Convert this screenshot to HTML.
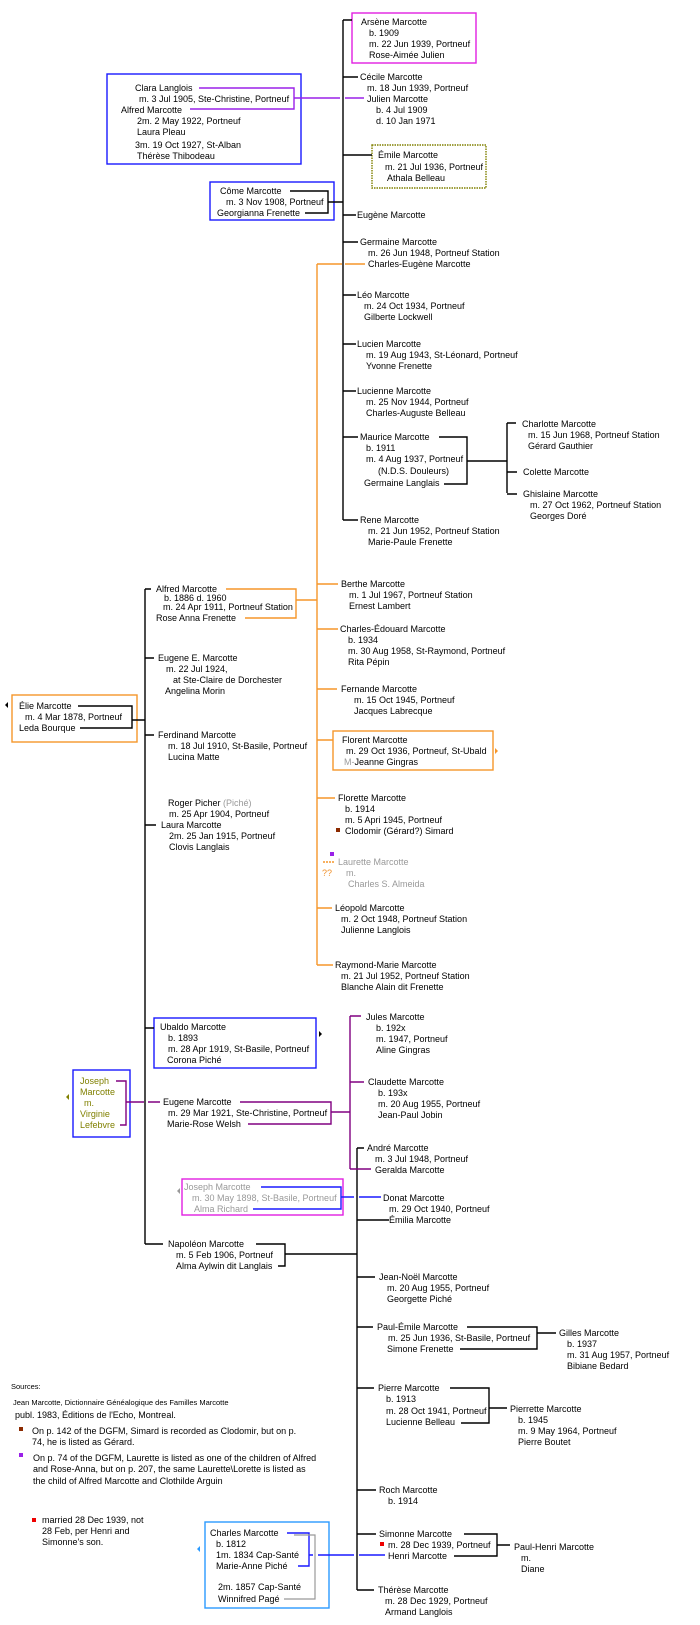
<!DOCTYPE html>
<html><head><meta charset="utf-8"><style>
html,body{margin:0;padding:0;background:#fff;}
svg{display:block}
text{font-family:"Liberation Sans",sans-serif;font-size:9px;fill:#000}
.g{fill:#999}.o{fill:#808000}.or{fill:#f0902a}
</style></head><body>
<svg width="700" height="1625" viewBox="0 0 700 1625" xmlns="http://www.w3.org/2000/svg">
<g fill="none" stroke-width="1.4">
<!-- boxes -->
<rect x="352" y="13" width="124" height="50" stroke="#e020e0"/>
<rect x="107" y="74" width="194" height="90" stroke="#1a1aff"/>
<rect x="372" y="145" width="114" height="43" stroke="#808000" stroke-dasharray="1.5,1"/>
<rect x="210" y="182" width="124" height="38" stroke="#1a1aff"/>
<rect x="12" y="695" width="125" height="47" stroke="#f5962a"/>
<rect x="333" y="731" width="160" height="39" stroke="#f5962a"/>
<rect x="154" y="1018" width="162" height="50" stroke="#1a1aff"/>
<rect x="73" y="1070" width="57" height="67" stroke="#1a1aff"/>
<rect x="182" y="1179" width="161" height="36" stroke="#e020e0"/>
<rect x="205" y="1522" width="124" height="86" stroke="#2a9aff"/>
</g>
<g fill="none" stroke="#000" stroke-width="1.4">
<!-- top family -->
<path d="M343 20V520"/>
<path d="M343 20H352M343 77H358M343 155H372M343 215H356M343 242H358M343 295H356M343 344H356M343 391H356M343 437H358M343 520H358"/>
<path d="M290 191H328V213H305M328 202H343"/>
<path d="M439 437H467V484H444M467 461H507M507 423V493M507 423H516M507 472H517M507 494H517"/>
<!-- Elie -->
<path d="M78 706H132V728H80M132 720H145M145 589V1244"/>
<path d="M145 589H151M145 658H154M145 735H154M145 825H156M145 1028H154M145 1244H163"/>
<path d="M256 1244H285V1266H278M285 1254H357"/>
<!-- lower black -->
<path d="M357 1148V1590"/>
<path d="M357 1148H364M357 1220H389M357 1277H375M357 1327H373M357 1388H374M357 1490H376M357 1534H376M357 1590H374"/>
<path d="M467 1327H537V1349H460M537 1333H556"/>
<path d="M450 1388H489V1423H461M489 1408H507"/>
<path d="M464 1534H497V1556H454M497 1545H510"/>
</g>
<!-- purple -->
<g fill="none" stroke="#9a20e8" stroke-width="1.4">
<path d="M199 88H294V109H190M294 98H340M345 98H364"/>
</g>
<g fill="none" stroke="#800080" stroke-width="1.4">
<path d="M116 1081H126V1125H120M126 1102H144M148 1102H160"/>
<path d="M240 1102H331V1124H248M331 1112H350M350 1016V1169M350 1016H361M350 1082H364M350 1169H371"/>
</g>
<!-- orange -->
<g fill="none" stroke="#f5962a" stroke-width="1.4">
<path d="M317 264V965M317 264H342M345 264H365"/>
<path d="M226 589H296V618H245M296 600H317"/>
<path d="M317 584H338M317 629H338M317 689H337M317 740H333M317 798H335M317 908H332M317 965H333"/>
<path d="M323 862H335" stroke-dasharray="2,1"/>
</g>
<!-- blue connectors -->
<g fill="none" stroke="#1a1aff" stroke-width="1.4">
<path d="M261 1187H341V1209H253M341 1197H354M359 1197H381"/>
<path d="M287 1533H309V1566H298M309 1555H313M318 1555H354M359 1555H385"/>
</g>
<path d="M294 1535H315V1599H284" fill="none" stroke="#999" stroke-width="1.2"/>
<!-- arrows / squares -->
<path d="M8 702L5 705L8 708Z" fill="#000"/>
<path d="M495 748L498 751L495 754Z" fill="#f5962a"/>
<path d="M319 1031L322 1034L319 1037Z" fill="#000"/>
<path d="M69 1094L66 1097L69 1100Z" fill="#808000"/>
<path d="M180 1188L177 1191L180 1194Z" fill="#999"/>
<path d="M200 1546L197 1549L200 1552Z" fill="#2a9aff"/>
<rect x="336" y="828" width="4" height="4" fill="#8b2a00"/>
<rect x="330" y="852" width="4" height="4" fill="#9a20e8"/>
<rect x="19" y="1427" width="4" height="4" fill="#8b2a00"/>
<rect x="19" y="1453" width="4" height="4" fill="#9a20e8"/>
<rect x="32" y="1518" width="4" height="4" fill="#e00"/>
<rect x="380" y="1542" width="4" height="4" fill="#e00"/>

<!-- texts top -->
<text x="361" y="25">Arsène Marcotte</text>
<text x="369" y="36">b. 1909</text>
<text x="369" y="47">m. 22 Jun 1939, Portneuf</text>
<text x="369" y="58">Rose-Aimée Julien</text>
<text x="360" y="80">Cécile Marcotte</text>
<text x="367" y="91">m. 18 Jun 1939, Portneuf</text>
<text x="367" y="102">Julien Marcotte</text>
<text x="376" y="113">b. 4 Jul 1909</text>
<text x="376" y="124">d. 10 Jan 1971</text>
<text x="135" y="91">Clara Langlois</text>
<text x="139" y="102">m. 3 Jul 1905, Ste-Christine, Portneuf</text>
<text x="121" y="113">Alfred Marcotte</text>
<text x="137" y="124">2m. 2 May 1922, Portneuf</text>
<text x="137" y="135">Laura Pleau</text>
<text x="135" y="148">3m. 19 Oct 1927, St-Alban</text>
<text x="137" y="159">Thérèse Thibodeau</text>
<text x="378" y="158">Émile Marcotte</text>
<text x="385" y="170">m. 21 Jul 1936, Portneuf</text>
<text x="387" y="181">Athala Belleau</text>
<text x="220" y="194">Côme Marcotte</text>
<text x="226" y="205">m. 3 Nov 1908, Portneuf</text>
<text x="217" y="216">Georgianna Frenette</text>
<text x="357" y="218">Eugène Marcotte</text>
<text x="360" y="245">Germaine Marcotte</text>
<text x="368" y="256">m. 26 Jun 1948, Portneuf Station</text>
<text x="368" y="267">Charles-Eugène Marcotte</text>
<text x="357" y="298">Léo Marcotte</text>
<text x="364" y="309">m.  24 Oct 1934, Portneuf</text>
<text x="364" y="320">Gilberte Lockwell</text>
<text x="357" y="347">Lucien Marcotte</text>
<text x="366" y="358">m. 19 Aug 1943, St-Léonard, Portneuf</text>
<text x="366" y="369">Yvonne Frenette</text>
<text x="357" y="394">Lucienne Marcotte</text>
<text x="366" y="405">m. 25 Nov 1944, Portneuf</text>
<text x="366" y="416">Charles-Auguste Belleau</text>
<text x="360" y="440">Maurice Marcotte</text>
<text x="366" y="451">b. 1911</text>
<text x="366" y="462">m. 4 Aug 1937, Portneuf</text>
<text x="378" y="474">(N.D.S. Douleurs)</text>
<text x="364" y="486">Germaine Langlais</text>
<text x="522" y="427">Charlotte Marcotte</text>
<text x="528" y="438">m. 15 Jun 1968, Portneuf Station</text>
<text x="528" y="449">Gérard Gauthier</text>
<text x="523" y="475">Colette Marcotte</text>
<text x="523" y="497">Ghislaine Marcotte</text>
<text x="530" y="508">m. 27 Oct 1962, Portneuf Station</text>
<text x="530" y="519">Georges Doré</text>
<text x="360" y="523">Rene Marcotte</text>
<text x="368" y="534">m. 21 Jun 1952, Portneuf Station</text>
<text x="368" y="545">Marie-Paule Frenette</text>
<!-- middle -->
<text x="156" y="592">Alfred Marcotte</text>
<text x="164" y="601">b. 1886   d. 1960</text>
<text x="163" y="610">m. 24 Apr 1911, Portneuf Station</text>
<text x="156" y="621">Rose Anna Frenette</text>
<text x="341" y="587">Berthe Marcotte</text>
<text x="349" y="598">m. 1 Jul 1967, Portneuf Station</text>
<text x="349" y="609">Ernest Lambert</text>
<text x="340" y="632">Charles-Édouard Marcotte</text>
<text x="348" y="643">b. 1934</text>
<text x="348" y="654">m. 30 Aug 1958, St-Raymond, Portneuf</text>
<text x="348" y="665">Rita Pépin</text>
<text x="158" y="661">Eugene E. Marcotte</text>
<text x="166" y="672">m. 22 Jul 1924,</text>
<text x="173" y="683">at Ste-Claire de Dorchester</text>
<text x="165" y="694">Angelina Morin</text>
<text x="341" y="692">Fernande Marcotte</text>
<text x="354" y="703">m. 15 Oct 1945, Portneuf</text>
<text x="354" y="714">Jacques Labrecque</text>
<text x="19" y="709">Élie Marcotte</text>
<text x="25" y="720">m.  4 Mar 1878, Portneuf</text>
<text x="19" y="731">Leda Bourque</text>
<text x="158" y="738">Ferdinand Marcotte</text>
<text x="168" y="749">m. 18 Jul 1910, St-Basile, Portneuf</text>
<text x="168" y="760">Lucina Matte</text>
<text x="342" y="743">Florent Marcotte</text>
<text x="346" y="754">m. 29 Oct 1936, Portneuf,  St-Ubald</text>
<text x="344" y="765"><tspan class="g" fill="#bbb">M-</tspan>Jeanne Gingras</text>
<text x="338" y="801">Florette Marcotte</text>
<text x="345" y="812">b. 1914</text>
<text x="345" y="823">m. 5 Apri 1945, Portneuf</text>
<text x="345" y="834">Clodomir (Gérard?)  Simard</text>
<text x="168" y="806">Roger Picher <tspan class="g">(Piché)</tspan></text>
<text x="169" y="817">m. 25 Apr 1904, Portneuf</text>
<text x="161" y="828">Laura Marcotte</text>
<text x="169" y="839">2m. 25 Jan 1915, Portneuf</text>
<text x="169" y="850">Clovis Langlais</text>
<text x="338" y="865" class="g">Laurette Marcotte</text>
<text x="322" y="876" class="or">??</text>
<text x="346" y="876" class="g">m.</text>
<text x="348" y="887" class="g">Charles S. Almeida</text>
<text x="335" y="911">Léopold Marcotte</text>
<text x="341" y="922">m. 2 Oct 1948, Portneuf Station</text>
<text x="341" y="933">Julienne Langlois</text>
<text x="335" y="968">Raymond-Marie Marcotte</text>
<text x="341" y="979">m. 21 Jul 1952, Portneuf Station</text>
<text x="341" y="990">Blanche Alain dit Frenette</text>
<!-- lower -->
<text x="160" y="1030">Ubaldo Marcotte</text>
<text x="168" y="1041">b. 1893</text>
<text x="168" y="1052">m. 28 Apr 1919, St-Basile, Portneuf</text>
<text x="167" y="1063">Corona Piché</text>
<text x="366" y="1020">Jules Marcotte</text>
<text x="376" y="1031">b. 192x</text>
<text x="376" y="1042">m. 1947, Portneuf</text>
<text x="376" y="1053">Aline Gingras</text>
<text x="368" y="1085">Claudette Marcotte</text>
<text x="378" y="1096">b. 193x</text>
<text x="378" y="1107">m.  20 Aug 1955, Portneuf</text>
<text x="378" y="1118">Jean-Paul Jobin</text>
<text x="80" y="1084" class="o">Joseph</text>
<text x="80" y="1095" class="o">Marcotte</text>
<text x="84" y="1106" class="o">m.</text>
<text x="80" y="1117" class="o">Virginie</text>
<text x="80" y="1128" class="o">Lefebvre</text>
<text x="163" y="1105">Eugene Marcotte</text>
<text x="168" y="1116">m. 29 Mar 1921, Ste-Christine, Portneuf</text>
<text x="167" y="1127">Marie-Rose Welsh</text>
<text x="367" y="1151">André Marcotte</text>
<text x="375" y="1162">m. 3 Jul 1948, Portneuf</text>
<text x="375" y="1173">Geralda Marcotte</text>
<text x="184" y="1190" class="g">Joseph Marcotte</text>
<text x="192" y="1201" class="g">m. 30 May 1898, St-Basile, Portneuf</text>
<text x="194" y="1212" class="g">Alma Richard</text>
<text x="383" y="1201">Donat Marcotte</text>
<text x="389" y="1212">m. 29 Oct 1940, Portneuf</text>
<text x="389" y="1223">Émilia Marcotte</text>
<text x="168" y="1247">Napoléon Marcotte</text>
<text x="176" y="1258">m. 5 Feb 1906, Portneuf</text>
<text x="176" y="1269">Alma Aylwin dit Langlais</text>
<text x="379" y="1280">Jean-Noël Marcotte</text>
<text x="387" y="1291">m. 20 Aug 1955, Portneuf</text>
<text x="387" y="1302">Georgette Piché</text>
<text x="377" y="1330">Paul-Émile Marcotte</text>
<text x="388" y="1341">m. 25 Jun 1936, St-Basile, Portneuf</text>
<text x="387" y="1352">Simone Frenette</text>
<text x="559" y="1336">Gilles Marcotte</text>
<text x="567" y="1347">b. 1937</text>
<text x="567" y="1358">m.  31 Aug 1957, Portneuf</text>
<text x="567" y="1369">Bibiane Bedard</text>
<text x="378" y="1391">Pierre Marcotte</text>
<text x="386" y="1402">b. 1913</text>
<text x="386" y="1414">m. 28 Oct 1941, Portneuf</text>
<text x="386" y="1425">Lucienne Belleau</text>
<text x="510" y="1412">Pierrette Marcotte</text>
<text x="518" y="1423">b. 1945</text>
<text x="518" y="1434">m. 9 May  1964, Portneuf</text>
<text x="518" y="1445">Pierre Boutet</text>
<text x="11" y="1389" style="font-size:7.5px">Sources:</text>
<text x="13" y="1405" style="font-size:7.5px">Jean Marcotte, Dictionnaire Généalogique des Familles Marcotte</text>
<text x="15" y="1418">publ. 1983, Éditions de l'Echo, Montreal.</text>
<text x="32" y="1434">On p. 142 of the DGFM, Simard is recorded as Clodomir, but on p.</text>
<text x="32" y="1445">74, he is listed as Gérard.</text>
<text x="33" y="1461">On p. 74 of the DGFM, Laurette is listed as one of the children of Alfred</text>
<text x="33" y="1472">and Rose-Anna, but on p. 207, the same Laurette\Lorette is listed as</text>
<text x="33" y="1484">the child of Alfred Marcotte and Clothilde Arguin</text>
<text x="379" y="1493">Roch Marcotte</text>
<text x="388" y="1504">b. 1914</text>
<text x="42" y="1523">married 28 Dec 1939, not</text>
<text x="42" y="1534">28 Feb, per Henri and</text>
<text x="42" y="1545">Simonne's son.</text>
<text x="210" y="1536">Charles Marcotte</text>
<text x="216" y="1547">b. 1812</text>
<text x="216" y="1558">1m.  1834  Cap-Santé</text>
<text x="216" y="1569">Marie-Anne Piché</text>
<text x="218" y="1590">2m. 1857 Cap-Santé</text>
<text x="218" y="1602">Winnifred Pagé</text>
<text x="379" y="1537">Simonne Marcotte</text>
<text x="388" y="1548">m. 28 Dec 1939, Portneuf</text>
<text x="388" y="1559">Henri Marcotte</text>
<text x="514" y="1550">Paul-Henri Marcotte</text>
<text x="521" y="1561">m.</text>
<text x="521" y="1572">Diane</text>
<text x="378" y="1593">Thérèse Marcotte</text>
<text x="385" y="1604">m. 28 Dec 1929, Portneuf</text>
<text x="385" y="1615">Armand Langlois</text>
</svg>
</body></html>
